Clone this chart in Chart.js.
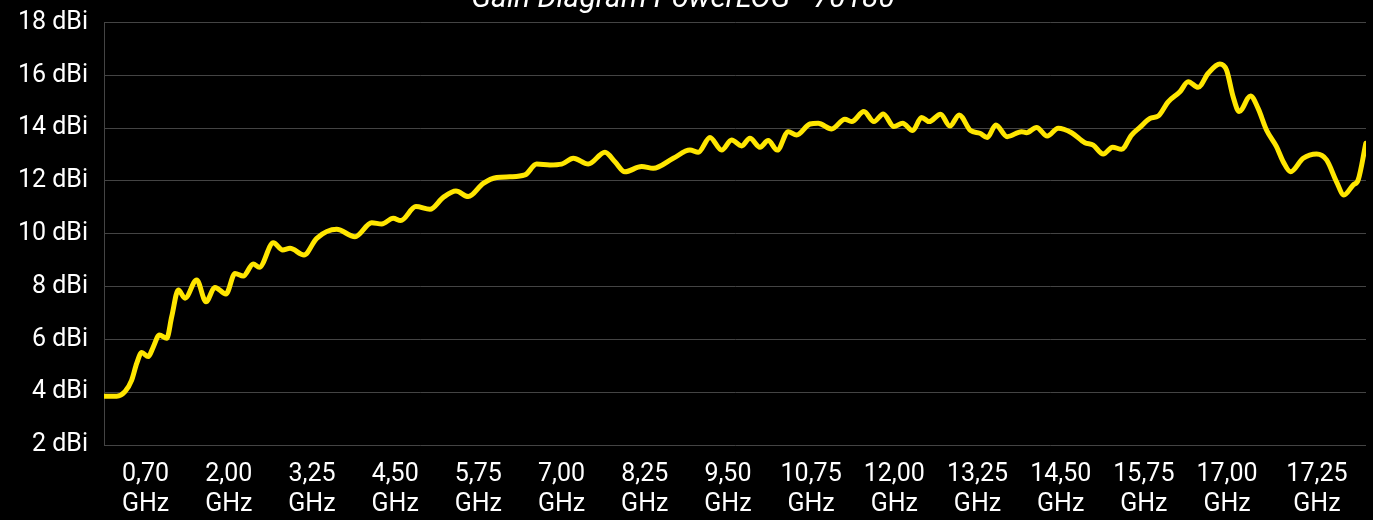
<!DOCTYPE html>
<html>
<head>
<meta charset="utf-8">
<script src="https://cdn.jsdelivr.net/npm/chart.js@4/dist/chart.umd.min.js"></script>
<style>
  html, body { margin: 0; padding: 0; background: #000; overflow: hidden; }
  /* canvas is pulled up a bit so the title is cut off like in the original */
  .chart-box { position: absolute; left: 0; top: -26px; width: 1373px; height: 546px; }
</style>
</head>
<body>
<div class="chart-box"><canvas id="gain-chart"></canvas></div>
<script>
// position along the sweep, one unit per labelled step
const sweepPos = [
  0, 0.153, 0.252, 0.333, 0.393, 0.453, 0.532, 0.593, 0.665, 0.754,
  0.814, 0.893, 0.974, 1.114, 1.226, 1.334, 1.466, 1.575, 1.674, 1.794,
  1.867, 2.035, 2.148, 2.236, 2.404, 2.557, 2.797, 3.017, 3.218, 3.338,
  3.477, 3.566, 3.75, 3.918, 4.078, 4.231, 4.379, 4.559, 4.72, 4.88,
  5.06, 5.201, 5.361, 5.501, 5.641, 5.821, 6.022, 6.142, 6.262, 6.463,
  6.602, 6.843, 7.043, 7.143, 7.284, 7.424, 7.544, 7.665, 7.764, 7.885,
  7.984, 8.093, 8.225, 8.326, 8.486, 8.585, 8.746, 8.906, 8.987, 9.135,
  9.255, 9.367, 9.495, 9.6, 9.72, 9.828, 9.919, 10.056, 10.168, 10.28,
  10.417, 10.529, 10.617, 10.721, 10.857, 11.03, 11.09, 11.21, 11.338, 11.47,
  11.631, 11.791, 11.891, 12.011, 12.124, 12.232, 12.352, 12.452, 12.572, 12.672,
  12.792, 12.933, 13.032, 13.153, 13.273, 13.413, 13.494, 13.573, 13.645, 13.782,
  13.873, 13.974, 14.094, 14.175, 14.263, 14.415, 14.576, 14.696, 14.816, 14.904,
  15.016, 15.076, 15.168
];
// gain in dBi
const gainDbi = [
  3.85, 3.85, 4.02, 4.46, 5.09, 5.5, 5.35, 5.72, 6.17, 6.04,
  6.86, 7.87, 7.56, 8.25, 7.43, 7.97, 7.72, 8.5, 8.4, 8.86,
  8.73, 9.66, 9.39, 9.45, 9.2, 9.83, 10.17, 9.89, 10.42, 10.37,
  10.59, 10.5, 11.03, 10.93, 11.38, 11.62, 11.41, 11.91, 12.13, 12.16,
  12.23, 12.64, 12.61, 12.64, 12.86, 12.64, 13.09, 12.73, 12.35, 12.55,
  12.48, 12.86, 13.17, 13.09, 13.65, 13.17, 13.55, 13.33, 13.62, 13.28,
  13.53, 13.17, 13.87, 13.74, 14.16, 14.19, 13.97, 14.34, 14.25, 14.63,
  14.25, 14.54, 14.06, 14.19, 13.91, 14.41, 14.25, 14.53, 14.08, 14.5,
  13.91, 13.81, 13.65, 14.12, 13.68, 13.87, 13.83, 14.03, 13.7, 14.0,
  13.83, 13.45, 13.36, 13.02, 13.28, 13.2, 13.74, 14.03, 14.37, 14.46,
  15.0, 15.38, 15.76, 15.55, 16.08, 16.43, 16.2, 15.19, 14.63, 15.22,
  14.75, 13.93, 13.3, 12.73, 12.35, 12.86, 13.02, 12.8, 11.97, 11.47,
  11.85, 12.04, 13.43
];
const tickPos = [0.5, 1.5, 2.5, 3.5, 4.5, 5.5, 6.5, 7.5, 8.5, 9.5, 10.5, 11.5, 12.5, 13.5, 14.58];
const tickLabels = [
  "0,70 GHz", "2,00 GHz", "3,25 GHz", "4,50 GHz", "5,75 GHz", "7,00 GHz", "8,25 GHz", "9,50 GHz",
  "10,75 GHz", "12,00 GHz", "13,25 GHz", "14,50 GHz", "15,75 GHz", "17,00 GHz", "17,25 GHz"
];
const yMin = 2;
const yMax = 18;
const yStep = 2;
const titleText = "Gain Diagram PowerLOG - 70180";

function main() {
  const ctx = document.querySelector("#gain-chart");
  Chart.defaults.font.family = "Roboto";
  Chart.defaults.color = "#ffffff";

  new Chart(ctx, {
    type: "line",
    data: {
      datasets: [
        {
          data: sweepPos.map((x, i) => ({ x: x, y: gainDbi[i] })),
          borderColor: "#ffe600",
          borderWidth: 5,
          borderCapStyle: "round",
          pointRadius: 0,
          cubicInterpolationMode: "monotone",
        },
      ],
    },
    options: {
      responsive: true,
      maintainAspectRatio: false,
      animation: false,
      layout: { padding: { left: 0, right: 7 } },
      plugins: {
        legend: { display: false },
        tooltip: { enabled: false },
        title: {
          display: true,
          text: titleText,
          color: "#ffffff",
          font: { size: 30, style: "italic", weight: "normal" },
          padding: { top: 7, bottom: 5.6 },
        },
      },
      scales: {
        x: {
          type: "linear",
          min: 0,
          max: 15.17,
          grid: { display: false, drawTicks: false },
          border: { display: false },
          afterBuildTicks: (scale) => {
            scale.ticks = tickPos.map((v) => ({ value: v }));
          },
          afterFit: (scale) => {
            scale.height = 75;
          },
          ticks: {
            autoSkip: false,
            maxRotation: 0,
            padding: 15,
            font: { size: 25 },
            callback: (value, index) => tickLabels[index].split(" "),
          },
        },
        y: {
          min: yMin,
          max: yMax,
          grid: { color: "#444444", lineWidth: 1, drawTicks: false },
          border: { color: "#444444" },
          afterFit: (scale) => {
            scale.width = 104;
          },
          ticks: {
            stepSize: yStep,
            padding: 16,
            font: { size: 25 },
            callback: (v) => `${v} dBi`,
          },
        },
      },
    },
  });
}

main();
</script>
</body>
</html>
